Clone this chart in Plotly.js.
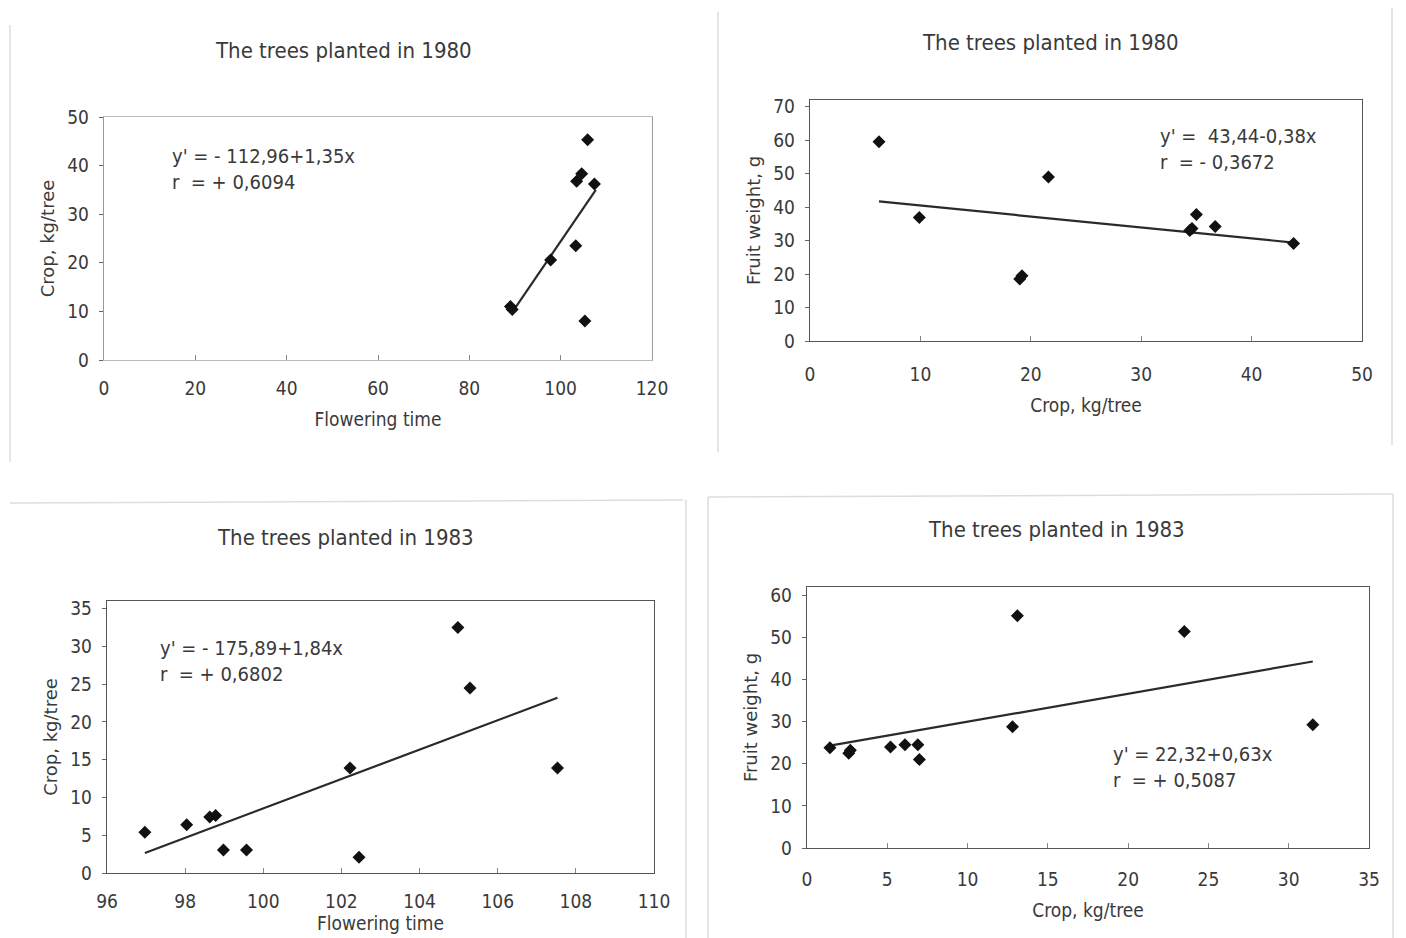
<!DOCTYPE html>
<html>
<head>
<meta charset="utf-8">
<script src="https://cdn.plot.ly/plotly-3.0.1.min.js"></script>
<style>html,body{margin:0;padding:0;background:#fff;}#chart{width:1406px;height:938px;}</style>
</head>
<body>
<div id="chart"></div>
<script>
// Panel A: 1980, flowering time vs crop
const flower80 = [89.0, 89.4, 97.8, 103.3, 103.5, 104.6, 105.9, 107.4, 105.3];
const crop80a  = [11.0, 10.4, 20.6, 23.5, 36.8, 38.3, 45.3, 36.2, 8.0];
const fitA_x = [89.3, 107.7];
const fitA_y = [9.7, 35.0];

// Panel B: 1980, crop vs fruit weight
const crop80b  = [6.25, 9.9, 19.0, 19.2, 21.6, 34.4, 34.6, 35.0, 36.7, 43.8];
const weight80 = [59.5, 36.9, 18.5, 19.5, 49.0, 33.0, 33.6, 37.8, 34.2, 29.1];
const fitB_x = [6.25, 43.8];
const fitB_y = [41.7, 29.4];

// Panel C: 1983, flowering time vs crop
const flower83 = [96.97, 98.04, 98.63, 98.78, 98.98, 99.57, 102.22, 102.45, 104.98, 105.29, 107.53];
const crop83a  = [5.4, 6.4, 7.4, 7.6, 3.05, 3.05, 13.9, 2.1, 32.5, 24.5, 13.9];
const fitC_x = [96.97, 107.53];
const fitC_y = [2.65, 23.2];

// Panel D: 1983, crop vs fruit weight
const crop83b  = [1.43, 2.6, 2.7, 5.2, 6.1, 6.9, 7.0, 12.8, 13.1, 23.5, 31.5];
const weight83 = [23.8, 22.5, 23.2, 24.0, 24.5, 24.5, 21.0, 28.8, 55.2, 51.4, 29.3];
const fitD_x = [1.43, 31.5];
const fitD_y = [24.3, 44.3];

const titles = ["The trees planted in 1980", "The trees planted in 1980", "The trees planted in 1983", "The trees planted in 1983"];
const eqText = ["y' = - 112,96+1,35x<br>r  = + 0,6094", "y' =  43,44-0,38x<br>r  = - 0,3672", "y' = - 175,89+1,84x<br>r  = + 0,6802", "y' = 22,32+0,63x<br>r  = + 0,5087"];
const xTitles = ["Flowering time", "Crop, kg/tree", "Flowering time", "Crop, kg/tree"];
const yTitles = ["Crop, kg/tree", "Fruit weight, g", "Crop, kg/tree", "Fruit weight, g"];

const W = 1406, H = 938;
const px = v => v / W;
const py = v => 1 - v / H;
const FONT = "DejaVu Sans Condensed, DejaVu Sans, sans-serif";
const YFONT = "DejaVu Sans, sans-serif";
const TXT = '#3a3a3a';

function pts(x, y, xa, ya) {
  return {x: x, y: y, xaxis: xa, yaxis: ya, type: 'scatter', mode: 'markers',
    marker: {symbol: 'diamond', size: 10, color: '#111'}, showlegend: false, hoverinfo: 'x+y'};
}
function fit(x, y, xa, ya) {
  return {x: x, y: y, xaxis: xa, yaxis: ya, type: 'scatter', mode: 'lines',
    line: {color: '#2a2a2a', width: 2.2}, showlegend: false, hoverinfo: 'skip'};
}

const data = [
  fit(fitA_x, fitA_y, 'x', 'y'), pts(flower80, crop80a, 'x', 'y'),
  fit(fitB_x, fitB_y, 'x2', 'y2'), pts(crop80b, weight80, 'x2', 'y2'),
  fit(fitC_x, fitC_y, 'x3', 'y3'), pts(flower83, crop83a, 'x3', 'y3'),
  fit(fitD_x, fitD_y, 'x4', 'y4'), pts(crop83b, weight83, 'x4', 'y4')
];

function xa(domain, range, dtick, anchor, title, standoff, tstand, lc) {
  return {domain: domain, range: range, dtick: dtick, tick0: range[0], anchor: anchor,
    showgrid: false, zeroline: false, showline: true, mirror: true, linecolor: lc, linewidth: 1.3,
    ticks: 'inside', ticklen: 5, tickcolor: '#888', ticklabelstandoff: standoff,
    tickfont: {family: FONT, size: 19, color: TXT},
    title: {text: title, font: {family: FONT, size: 19, color: TXT}, standoff: tstand}};
}
function ya(domain, range, dtick, anchor, title, lc) {
  return {domain: domain, range: range, dtick: dtick, tick0: 0, anchor: anchor,
    showgrid: false, zeroline: false, showline: true, mirror: true, linecolor: lc, linewidth: 1.3,
    ticks: 'outside', ticklen: 4, tickcolor: '#666', ticklabelstandoff: 6,
    tickfont: {family: FONT, size: 19, color: TXT},
    title: {text: title, font: {family: YFONT, size: 18, color: TXT}, standoff: 8}};
}

const layout = {
  width: W, height: H,
  margin: {l: 0, r: 0, t: 0, b: 0},
  paper_bgcolor: '#fff', plot_bgcolor: '#fff',
  showlegend: false,
  xaxis:  xa([px(104), px(652)], [0, 120], 20, 'y', xTitles[0], 11, 14, '#bbb'),
  yaxis:  ya([py(360), py(117)], [0, 50], 10, 'x', yTitles[0], '#999'),
  xaxis2: xa([px(810), px(1362)], [0, 50], 10, 'y2', xTitles[1], 16, 14, '#555'),
  yaxis2: ya([py(341), py(100)], [0, 72], 10, 'x2', yTitles[1], '#555'),
  xaxis3: xa([px(107), px(654)], [96, 110], 2, 'y3', xTitles[2], 11, 4, '#555'),
  yaxis3: ya([py(873), py(601)], [0, 36], 5, 'x3', yTitles[2], '#555'),
  xaxis4: xa([px(807), px(1369)], [0, 35], 5, 'y4', xTitles[3], 14, 14, '#555'),
  yaxis4: ya([py(848), py(587)], [0, 62], 10, 'x4', yTitles[3], '#555'),
  annotations: [
    {text: titles[0], x: px(343), y: py(50), xref: 'paper', yref: 'paper', xanchor: 'center', yanchor: 'middle', showarrow: false, font: {family: FONT, size: 22, color: TXT}},
    {text: titles[1], x: px(1050), y: py(42), xref: 'paper', yref: 'paper', xanchor: 'center', yanchor: 'middle', showarrow: false, font: {family: FONT, size: 22, color: TXT}},
    {text: titles[2], x: px(345), y: py(537), xref: 'paper', yref: 'paper', xanchor: 'center', yanchor: 'middle', showarrow: false, font: {family: FONT, size: 22, color: TXT}},
    {text: titles[3], x: px(1056), y: py(529), xref: 'paper', yref: 'paper', xanchor: 'center', yanchor: 'middle', showarrow: false, font: {family: FONT, size: 22, color: TXT}},
    {text: eqText[0], x: px(170), y: py(142), xref: 'paper', yref: 'paper', xanchor: 'left', yanchor: 'top', align: 'left', showarrow: false, font: {family: FONT, size: 20, color: TXT}},
    {text: eqText[1], x: px(1158), y: py(122), xref: 'paper', yref: 'paper', xanchor: 'left', yanchor: 'top', align: 'left', showarrow: false, font: {family: FONT, size: 20, color: TXT}},
    {text: eqText[2], x: px(158), y: py(634), xref: 'paper', yref: 'paper', xanchor: 'left', yanchor: 'top', align: 'left', showarrow: false, font: {family: FONT, size: 20, color: TXT}},
    {text: eqText[3], x: px(1111), y: py(740), xref: 'paper', yref: 'paper', xanchor: 'left', yanchor: 'top', align: 'left', showarrow: false, font: {family: FONT, size: 20, color: TXT}}
  ],
  shapes: [
    {type: 'line', xref: 'paper', yref: 'paper', x0: px(10), x1: px(10), y0: py(25), y1: py(462), line: {color: '#ddd', width: 1.5}},
    {type: 'line', xref: 'paper', yref: 'paper', x0: px(718), x1: px(718), y0: py(12), y1: py(452), line: {color: '#ddd', width: 1.5}},
    {type: 'line', xref: 'paper', yref: 'paper', x0: px(1392), x1: px(1392), y0: py(8), y1: py(445), line: {color: '#ddd', width: 1.5}},
    {type: 'line', xref: 'paper', yref: 'paper', x0: px(10), x1: px(683), y0: py(503), y1: py(500), line: {color: '#ddd', width: 1.5}},
    {type: 'line', xref: 'paper', yref: 'paper', x0: px(686), x1: px(686), y0: py(500), y1: py(938), line: {color: '#ddd', width: 1.5}},
    {type: 'line', xref: 'paper', yref: 'paper', x0: px(708), x1: px(1393), y0: py(497), y1: py(494), line: {color: '#ddd', width: 1.5}},
    {type: 'line', xref: 'paper', yref: 'paper', x0: px(708), x1: px(708), y0: py(497), y1: py(938), line: {color: '#ddd', width: 1.5}},
    {type: 'line', xref: 'paper', yref: 'paper', x0: px(1393), x1: px(1393), y0: py(494), y1: py(938), line: {color: '#ddd', width: 1.5}}
  ]
};

Plotly.newPlot('chart', data, layout, {displayModeBar: false, staticPlot: true});
</script>
</body>
</html>
